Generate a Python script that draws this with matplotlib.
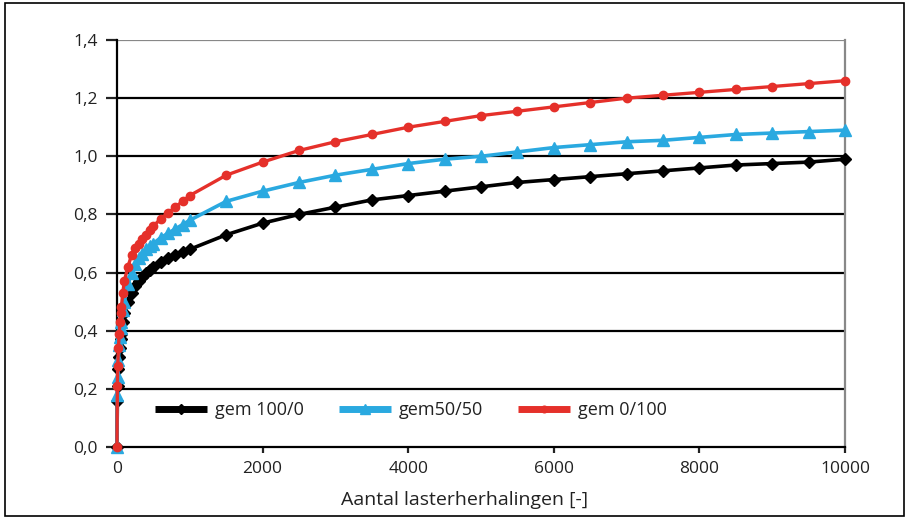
import numpy as np
import matplotlib.pyplot as plt
from matplotlib.patches import Rectangle
from matplotlib.ticker import FuncFormatter

plt.rcParams['font.family'] = ['Open Sans', 'DejaVu Sans']

# load repetitions
x = [0, 5, 10, 20, 30, 40, 50, 60, 80, 100, 150, 200, 250, 300, 350, 400, 450,
     500, 600, 700, 800, 900, 1000, 1500, 2000, 2500, 3000, 3500, 4000, 4500,
     5000, 5500, 6000, 6500, 7000, 7500, 8000, 8500, 9000, 9500, 10000]

gem_100_0 = [0.0, 0.16, 0.21, 0.27, 0.31, 0.34, 0.37, 0.39, 0.43, 0.46, 0.50,
             0.53, 0.555, 0.57, 0.585, 0.60, 0.61, 0.62, 0.635, 0.65, 0.66,
             0.67, 0.68, 0.73, 0.77, 0.80, 0.825, 0.85, 0.865, 0.88, 0.895,
             0.91, 0.92, 0.93, 0.94, 0.95, 0.96, 0.97, 0.975, 0.98, 0.99]

gem_50_50 = [0.0, 0.18, 0.24, 0.30, 0.35, 0.38, 0.41, 0.43, 0.47, 0.50, 0.56,
             0.60, 0.63, 0.65, 0.665, 0.68, 0.69, 0.70, 0.72, 0.735, 0.75,
             0.765, 0.78, 0.845, 0.88, 0.91, 0.935, 0.955, 0.975, 0.99, 1.0,
             1.015, 1.03, 1.04, 1.05, 1.055, 1.065, 1.075, 1.08, 1.085, 1.09]

gem_0_100 = [0.0, 0.21, 0.28, 0.34, 0.39, 0.43, 0.46, 0.48, 0.53, 0.57, 0.62,
             0.66, 0.685, 0.70, 0.715, 0.73, 0.745, 0.76, 0.785, 0.805, 0.825,
             0.845, 0.865, 0.935, 0.98, 1.02, 1.05, 1.075, 1.10, 1.12, 1.14,
             1.155, 1.17, 1.185, 1.20, 1.21, 1.22, 1.23, 1.24, 1.25, 1.26]

labels = ['gem 100/0', 'gem50/50', 'gem 0/100']

fig = plt.figure(figsize=(9.09, 5.19), dpi=100)
ax = fig.add_axes([0.1287, 0.1387, 0.8009, 0.7842])

# outer frame
fig.patches.append(Rectangle((0.006, 0.006), 0.988, 0.988, transform=fig.transFigure,
                             fill=False, edgecolor='black', linewidth=1.2))

# grid lines
for g in np.arange(0.2, 1.3, 0.2):
    ax.axhline(g, color='black', linewidth=1.6, zorder=1)
ax.axhline(1.4, color='#888888', linewidth=1.6, zorder=1)

ax.plot(x, gem_100_0, color='black', marker='D', markersize=6.5, linewidth=2.6,
        label=labels[0], clip_on=False, zorder=3, solid_capstyle='butt')
ax.plot(x, gem_50_50, color='#2aa9e0', marker='^', markersize=8.5, linewidth=2.6,
        label=labels[1], clip_on=False, zorder=4, solid_capstyle='butt')
ax.plot(x, gem_0_100, color='#e5302a', marker='o', markersize=6, linewidth=2.4,
        label=labels[2], clip_on=False, zorder=5, solid_capstyle='butt')

ax.set_xlim(0, 10000)
ax.set_ylim(0, 1.4)
ax.set_xticks(np.arange(0, 10001, 2000))
ax.set_yticks(np.arange(0, 1.41, 0.2))
ax.yaxis.set_major_formatter(FuncFormatter(lambda v, p: '{:.1f}'.format(v).replace('.', ',')))
ax.tick_params(axis='both', labelsize=12.5, colors='#222222', width=1.6, length=8)
ax.tick_params(axis='x', length=4, pad=6)
ax.tick_params(axis='y', pad=6)

ax.spines['top'].set_visible(False)
ax.spines['right'].set_color('#888888')
ax.spines['right'].set_linewidth(1.6)
ax.spines['left'].set_linewidth(1.6)
ax.spines['bottom'].set_linewidth(1.6)

ax.set_xlabel('Aantal lasterherhalingen [-]', fontsize=14, color='#222222')
ax.xaxis.set_label_coords(0.478, -0.107)

leg = ax.legend(loc='center left', bbox_to_anchor=(0.052, 0.091), ncol=3, frameon=False,
                fontsize=13, handlelength=2.9, columnspacing=1.9, handletextpad=0.45,
                borderpad=0, borderaxespad=0, markerscale=0.8)
for h in leg.legend_handles:
    h.set_linewidth(5)
    h.set_solid_capstyle('butt')
for t in leg.get_texts():
    t.set_color('#222222')

fig.savefig('out.png', dpi=100)
